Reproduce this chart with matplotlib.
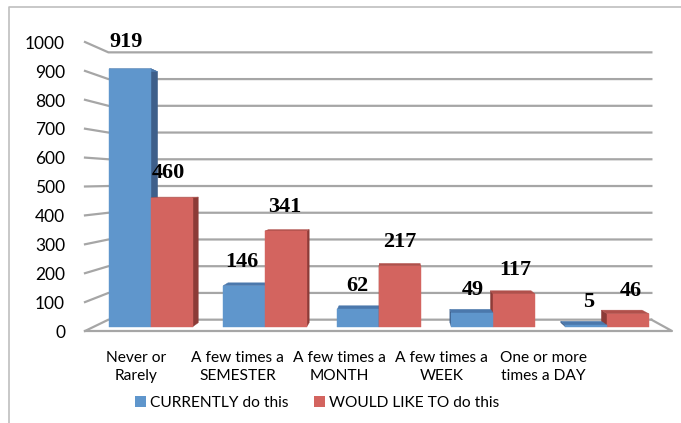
import matplotlib
matplotlib.use("Agg")
import matplotlib.pyplot as plt
from matplotlib.patches import Polygon, Patch
from matplotlib.lines import Line2D

categories = ["Never or\nRarely", "A few times a\nSEMESTER", "A few times a\nMONTH",
              "A few times a\nWEEK", "One or more\ntimes a DAY"]
series_names = ["CURRENTLY do this", "WOULD LIKE TO do this"]
currently = [919, 146, 62, 49, 5]
would_like = [460, 341, 217, 117, 46]
y_ticks = [0, 100, 200, 300, 400, 500, 600, 700, 800, 900, 1000]

face_cols = ["#5F96CC", "#D3645F"]
side_cols = ["#3E5F8A", "#8C3B37"]
top_cols = ["#4B78AC", "#B0504B"]
grid_col = "#A6A6A6"

W, H = 681, 423
fig = plt.figure(figsize=(W / 100, H / 100), dpi=100)
ax = fig.add_axes([0, 0, 1, 1])
ax.axis("off")

# front-plane mapping: category units horizontally, value units vertically
X0_PX, CAT_PX, Y0_PX, VAL_PX = 85, 117.4, 331, 0.289
ax.set_xlim(-X0_PX / CAT_PX, (W - X0_PX) / CAT_PX)
ax.set_ylim((Y0_PX - H) / VAL_PX, Y0_PX / VAL_PX)

n = len(categories)
CX, CY = (397 - X0_PX) / CAT_PX, (Y0_PX - 180) / VAL_PX
S_WALL, S_FRONT, S_BACK, S_LABEL = 0.925, 0.972, 0.945, 0.985
BAR_W = 0.366


def P(x, y, s):
    return (CX + (x - CX) * s, CY + (y - CY) * s)


# back wall gridlines and left-wall diagonals
for v in y_ticks:
    a = P(0, v, 1.0)
    b = P(0, v, S_WALL)
    c = P(n, v, S_WALL)
    ax.plot([a[0], b[0], c[0]], [a[1], b[1], c[1]], color=grid_col, lw=1.6,
            solid_joinstyle="miter", zorder=1)
    ax.text(a[0] - 0.17, v - 6, str(v), ha="right", va="center", fontsize=12.5,
            family="Lato", color="#000000")
# floor front and right edge
f0, f1, f2 = P(0, 0, 1.0), P(n, 0, 1.0), P(n, 0, S_WALL)
ax.plot([f0[0], f1[0], f2[0]], [f0[1], f1[1], f2[1]], color=grid_col, lw=1.6, zorder=1)

# bars
bars = []
for i in range(n):
    for k, vals in enumerate([currently, would_like]):
        x0 = i + 0.5 - BAR_W + k * BAR_W
        bars.append((x0, x0 + BAR_W, vals[i], k))
bars.sort(key=lambda b: -abs((b[0] + b[1]) / 2 - CX))
z = 2
for x0, x1, v, k in bars:
    xs = x1 if (x0 + x1) / 2 < CX else x0
    side = [P(xs, 0, S_FRONT), P(xs, v, S_FRONT), P(xs, v, S_BACK), P(xs, 0, S_BACK)]
    top = [P(x0, v, S_FRONT), P(x1, v, S_FRONT), P(x1, v, S_BACK), P(x0, v, S_BACK)]
    front = [P(x0, 0, S_FRONT), P(x1, 0, S_FRONT), P(x1, v, S_FRONT), P(x0, v, S_FRONT)]
    for pts, col in [(side, side_cols[k]), (top, top_cols[k]), (front, face_cols[k])]:
        ax.add_patch(Polygon(pts, closed=True, facecolor=col, edgecolor=col,
                             lw=0.3, zorder=z))
        z += 1
    lx, ly = P((x0 + x1) / 2, v, S_LABEL)
    ax.annotate(str(v), (lx, ly), xytext=(0, 18), textcoords="offset points",
                ha="center", va="center", fontsize=16, fontweight="bold",
                family="Liberation Serif", zorder=100)

# category labels
for i, lab in enumerate(categories):
    ax.text((i + 0.5) * 0.868, (Y0_PX - 367) / VAL_PX, lab, ha="center", va="center",
            fontsize=11.2, family="Lato", linespacing=1.4)

handles = [Patch(facecolor=face_cols[k], edgecolor="none") for k in range(2)]
fig.legend(handles, series_names, loc="center", bbox_to_anchor=(317 / W, 1 - 403 / H),
           ncol=2, frameon=False, prop={"family": "Lato", "size": 11.2},
           handlelength=0.75, handleheight=0.75, handletextpad=0.25, columnspacing=1.6)

# chart border
fig.add_artist(Line2D([9 / W, 9 / W, 1.01], [-0.01, 1 - 7 / H, 1 - 7 / H],
                      transform=fig.transFigure, color="#BFBFBF", lw=1.2))

fig.savefig("out.png", dpi=100)
